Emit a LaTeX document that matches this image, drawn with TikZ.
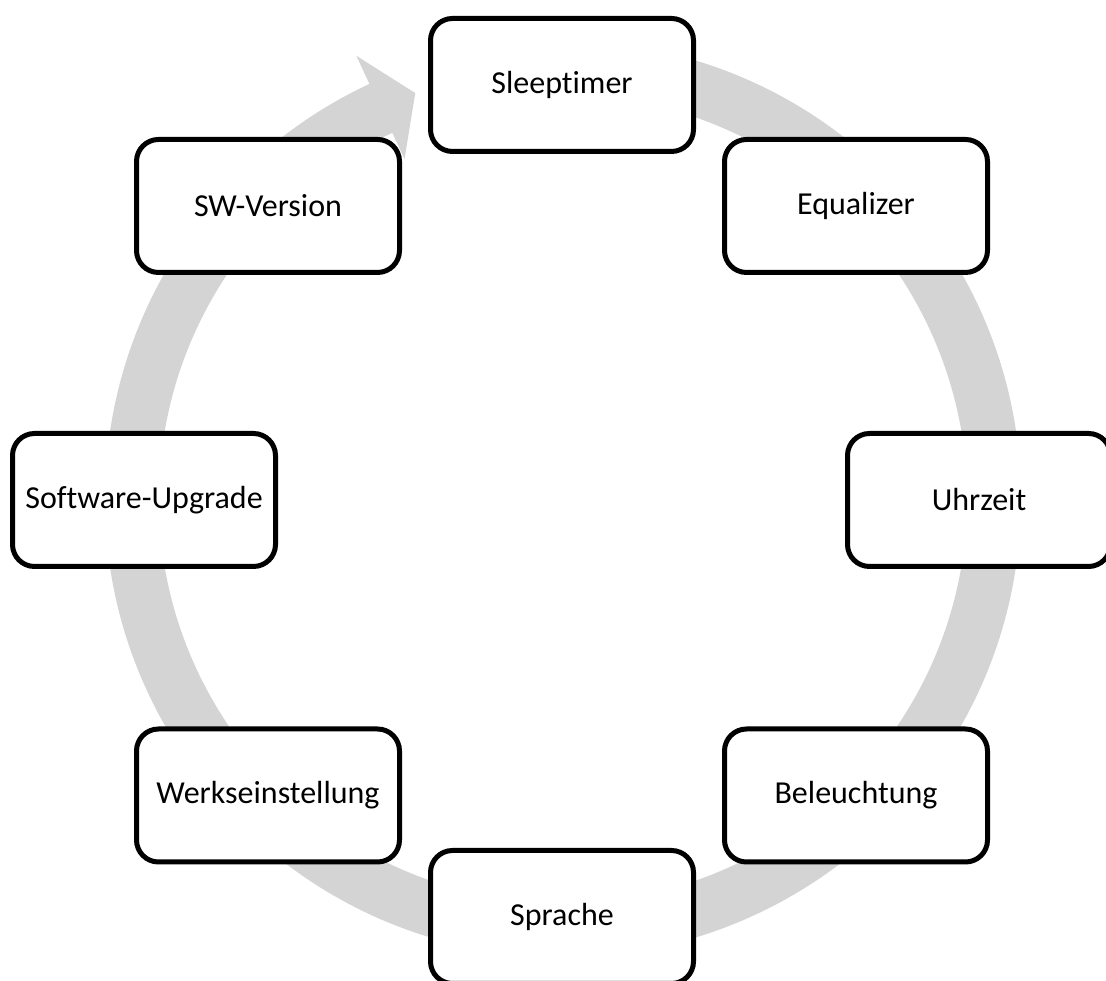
\documentclass[tikz,border=0pt]{standalone}
\usepackage{fontspec}
\setmainfont{Carlito}[Ligatures={NoCommon}]
\usetikzlibrary{calc}
\definecolor{ringgray}{RGB}{212,212,212}
\tikzset{
  cyclebox/.style={draw=black, line width=5pt, fill=white, rounded corners=22pt,
    minimum width=263pt, minimum height=133pt, inner sep=0pt,
    font=\fontsize{32}{38}\selectfont, text=black},
}
\begin{document}
\begin{tikzpicture}[x=1pt,y=1pt]
\useasboundingbox (0,0) rectangle (1106,981);
\clip (0,0) rectangle (1106,981);
\coordinate (C) at (563,482);
\fill[ringgray] ($(C)+(85:458pt)$) arc[start angle=85, end angle=-245, radius=458pt]
  -- ($(C)+(-245:489pt)$) -- ($(C)+(-250:432pt)$) -- ($(C)+(-245:375pt)$)
  -- ($(C)+(-245:404pt)$) arc[start angle=-245, end angle=85, radius=404pt] -- cycle;
\node[cyclebox] (sleep) at (562,896) {Sleeptimer};
\node[cyclebox] (eq) at (856,775) {Equalizer};
\node[cyclebox] (uhr) at (979,481) {Uhrzeit};
\node[cyclebox] (bel) at (856,185.5) {Beleuchtung};
\node[cyclebox] (spr) at (562,64) {Sprache};
\node[cyclebox] (werk) at (268,185.5) {Werkseinstellung};
\node[cyclebox] (swup) at (144,481) {Software-Upgrade};
\node[cyclebox] (swv) at (268,775) {SW-Version};
\end{tikzpicture}
\end{document}
